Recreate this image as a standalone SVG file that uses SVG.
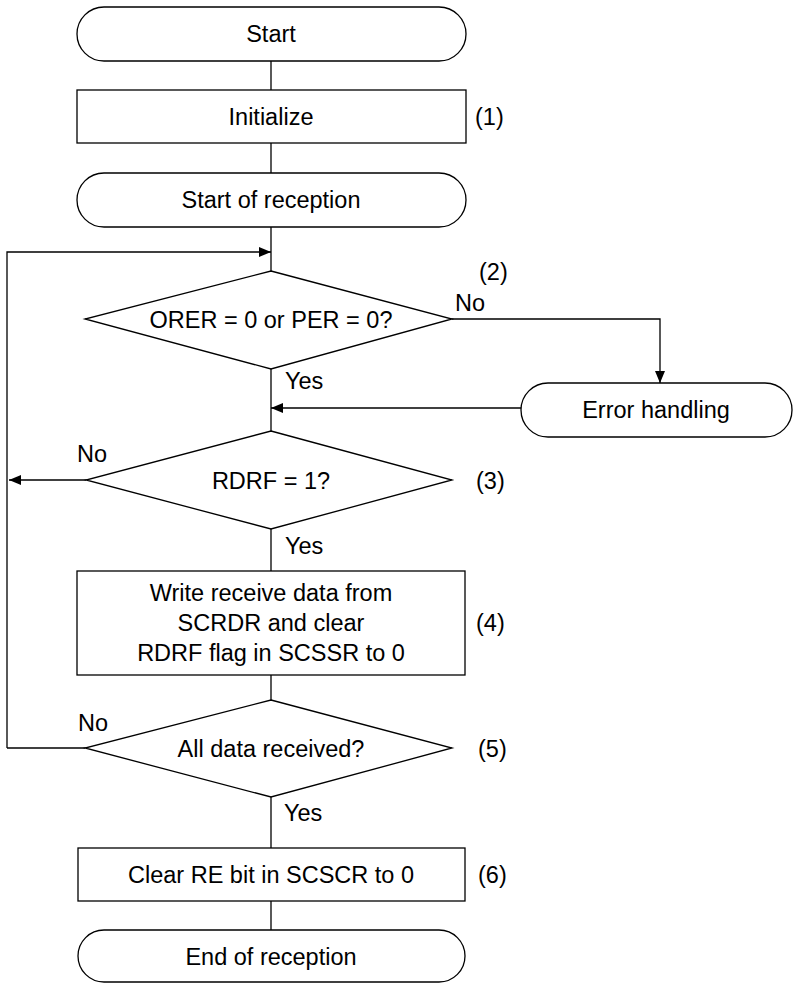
<svg xmlns="http://www.w3.org/2000/svg" width="794" height="983" viewBox="0 0 794 983">
<defs>
<style>
.s{fill:#fff;stroke:#000;stroke-width:1.3}
.l{fill:none;stroke:#000;stroke-width:1.3}
text{font-family:"Liberation Sans",Arial,sans-serif;font-size:23.5px;fill:#000}
.c{text-anchor:middle}
</style>
<marker id="ah" viewBox="0 0 12 10" refX="12" refY="5" markerWidth="12" markerHeight="10" markerUnits="userSpaceOnUse" orient="auto">
<path d="M0,0 L12,5 L0,10 Z" fill="#000"/>
</marker>
</defs>
<g id="connectors">
<path class="l" d="M271,61 V90"/>
<path class="l" d="M271,143 V173"/>
<path class="l" d="M271,227 V271"/>
<path class="l" d="M7,748 H85"/>
<path class="l" d="M7,748 V252 H271" marker-end="url(#ah)"/>
<path class="l" d="M452,319 H660 V383" marker-end="url(#ah)"/>
<path class="l" d="M521,408 H271" marker-end="url(#ah)"/>
<path class="l" d="M271,369 V431"/>
<path class="l" d="M86,480 H9" marker-end="url(#ah)"/>
<path class="l" d="M271,529 V571"/>
<path class="l" d="M271,675 V700"/>
<path class="l" d="M271,797 V848"/>
<path class="l" d="M271,901 V930"/>
<text x="455" y="311">No</text>
<text x="285" y="389">Yes</text>
<text x="77" y="462">No</text>
<text x="285" y="554">Yes</text>
<text x="78" y="731">No</text>
<text x="284" y="821">Yes</text>
</g>
<g id="start">
<rect class="s" x="77" y="7" width="389" height="54" rx="27" ry="27"/>
<text class="c" x="271" y="42">Start</text>
</g>
<g id="initialize">
<rect class="s" x="77" y="90" width="389" height="53"/>
<text class="c" x="271" y="125">Initialize</text>
<text x="475" y="125">(1)</text>
</g>
<g id="start-reception">
<rect class="s" x="77" y="173" width="389" height="54" rx="27" ry="27"/>
<text class="c" x="271" y="208">Start of reception</text>
</g>
<g id="check-errors">
<polygon class="s" points="271,271 452,319 271,369 85,319"/>
<text class="c" x="271" y="328">ORER = 0 or PER = 0?</text>
<text x="479" y="280">(2)</text>
</g>
<g id="error-handling">
<rect class="s" x="521" y="383" width="271" height="54" rx="27" ry="27"/>
<text class="c" x="656" y="418">Error handling</text>
</g>
<g id="check-rdrf">
<polygon class="s" points="271,431 452,480 271,529 86,480"/>
<text class="c" x="271" y="489">RDRF = 1?</text>
<text x="476" y="489">(3)</text>
</g>
<g id="write-data">
<rect class="s" x="77" y="571" width="388" height="104"/>
<text class="c" x="271" y="601">Write receive data from</text>
<text class="c" x="271" y="631">SCRDR and clear</text>
<text class="c" x="271" y="661">RDRF flag in SCSSR to 0</text>
<text x="476" y="631">(4)</text>
</g>
<g id="check-all">
<polygon class="s" points="271,700 452,748 271,797 85,748"/>
<text class="c" x="271" y="757">All data received?</text>
<text x="478" y="757">(5)</text>
</g>
<g id="clear-re">
<rect class="s" x="78" y="848" width="387" height="53"/>
<text class="c" x="271" y="883">Clear RE bit in SCSCR to 0</text>
<text x="478" y="883">(6)</text>
</g>
<g id="end-reception">
<rect class="s" x="78" y="930" width="387" height="52" rx="26" ry="26"/>
<text class="c" x="271" y="965">End of reception</text>
</g>
</svg>
